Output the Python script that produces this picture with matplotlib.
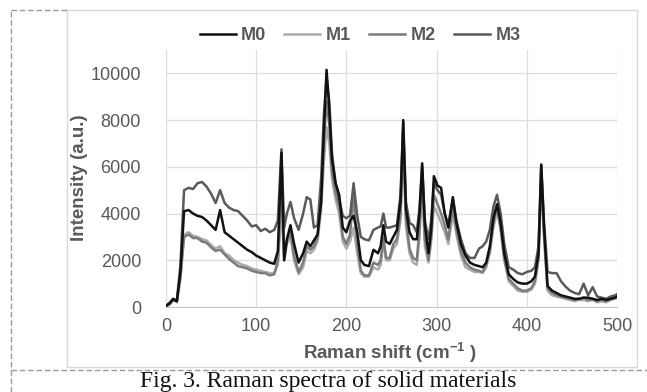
import matplotlib
matplotlib.use("Agg")
import matplotlib.pyplot as plt
from matplotlib.lines import Line2D
from matplotlib.patches import Rectangle

# ---------------- data ----------------
raman_shift = [
    0, 4, 8, 12, 16, 20, 25, 30, 35, 40,
    45, 50, 55, 60, 65, 70, 75, 80, 85, 90,
    95, 100, 105, 110, 115, 120, 124, 128, 131, 134,
    138, 142, 147, 152, 156, 160, 164, 168, 172, 175,
    178, 181, 184, 188, 192, 196, 200, 204, 208, 212,
    216, 220, 225, 230, 235, 238, 241, 244, 248, 252,
    256, 260, 263, 266, 270, 274, 278, 281, 284, 287,
    291, 294, 297, 301, 305, 309, 313, 318, 322, 327,
    332, 337, 342, 347, 351, 355, 359, 363, 367, 371,
    375, 380, 385, 390, 395, 400, 405, 409, 413, 416,
    419, 423, 428, 433, 438, 443, 448, 453, 458, 463,
    468, 473, 478, 483, 488, 493, 498, 500,
]

m0 = [
    50, 150, 350, 250, 1500, 4100, 4150, 4000, 3900, 3850,
    3700, 3500, 3300, 4150, 3200, 3050, 2900, 2750, 2600, 2450,
    2350, 2200, 2100, 2000, 1900, 1850, 2400, 6600, 2000, 2900,
    3500, 2700, 1900, 2300, 2800, 2600, 2850, 3100, 4500, 7500,
    10150, 8500, 6300, 5300, 4800, 3400, 3200, 3700, 3900, 3200,
    2000, 1800, 1750, 2450, 2300, 2600, 3500, 2800, 2700, 3000,
    3300, 4500, 8000, 4200, 3200, 2900, 2900, 4000, 6150, 3500,
    2300, 3300, 5600, 5200, 5100, 4000, 3400, 4700, 3600, 2700,
    2200, 1900, 1800, 1750, 1700, 1900, 2600, 3800, 4400, 3600,
    2300, 1400, 1200, 1050, 1000, 1000, 1100, 1300, 2300, 6100,
    3500, 900, 700, 600, 500, 450, 400, 350, 350, 400,
    400, 350, 300, 350, 300, 350, 400, 450,
]

m1 = [
    0, 100, 300, 200, 1200, 3100, 3200, 3050, 3000, 2900,
    2850, 2650, 2500, 2600, 2300, 2200, 2000, 1900, 1800, 1750,
    1650, 1600, 1550, 1500, 1450, 1450, 1800, 4200, 2000, 2700,
    3000, 2000, 1400, 1700, 2400, 2300, 2450, 2800, 4200, 6200,
    7700, 7000, 5500, 4600, 4000, 2800, 2500, 2800, 3400, 2300,
    1450, 1300, 1300, 1700, 1600, 1800, 2800, 2000, 2000, 2500,
    2700, 3700, 6800, 3500, 2300, 1900, 1800, 3000, 5300, 2600,
    1900, 2800, 4300, 4000, 3600, 3200, 2700, 4000, 3100, 2200,
    1700, 1600, 1500, 1500, 1450, 1700, 2300, 3400, 4100, 3300,
    2000, 1100, 900, 700, 650, 650, 750, 1000, 2000, 5600,
    3000, 700, 500, 450, 400, 350, 300, 250, 300, 300,
    250, 300, 200, 250, 200, 300, 350, 400,
]

m2 = [
    50, 200, 350, 250, 1300, 3000, 3100, 2950, 2950, 2800,
    2750, 2550, 2400, 2450, 2250, 2050, 1900, 1750, 1700, 1650,
    1550, 1500, 1450, 1450, 1350, 1400, 2000, 5200, 2300, 2800,
    3200, 2200, 1500, 1900, 2600, 2450, 2600, 3000, 4500, 7000,
    8800, 7800, 5800, 4900, 4300, 3000, 2700, 3100, 4800, 2700,
    1550, 1350, 1350, 1900, 1800, 2000, 3000, 2100, 2100, 2700,
    2900, 4000, 7300, 3800, 2500, 2100, 2000, 3300, 5700, 2900,
    2000, 3000, 4800, 4400, 4000, 3500, 2900, 4300, 3300, 2400,
    1900, 1700, 1600, 1550, 1500, 1800, 2400, 3600, 4300, 3400,
    2100, 1200, 1000, 800, 700, 700, 800, 1100, 2100, 5800,
    3200, 800, 600, 500, 450, 400, 350, 300, 350, 400,
    300, 350, 250, 300, 250, 350, 400, 450,
]

m3 = [
    50, 150, 300, 250, 1800, 5000, 5100, 5050, 5300, 5350,
    5150, 4850, 4450, 5000, 4450, 4250, 4150, 4100, 3900, 3700,
    3450, 3500, 3250, 3350, 3200, 3300, 3700, 6750, 3400, 4000,
    4500, 3800, 3300, 4000, 4700, 4600, 3400, 3500, 5500, 8200,
    9800, 8800, 6600, 5300, 4600, 3900, 3800, 3900, 5300, 3900,
    3000, 2900, 2850, 3300, 3400, 3450, 4000, 3400, 3400, 3450,
    3500, 4800, 7900, 4500, 3600, 3500, 3200, 4200, 6000, 3700,
    2900, 3700, 5300, 5000, 4800, 4000, 3500, 4600, 3700, 2900,
    2300, 2100, 2100, 2500, 2600, 2800, 3300, 4300, 4800, 4000,
    2700, 1700, 1600, 1450, 1400, 1500, 1550, 1700, 2600, 6050,
    3700, 1500, 1450, 1450, 1100, 870, 700, 600, 550, 1000,
    500, 850, 450, 400, 350, 450, 500, 550,
]

series_names = ["M0", "M1", "M2", "M3"]
series_values = [m0, m1, m2, m3]
series_colors = ["#111111", "#ababab", "#7c7c7c", "#5a5a5a"]
series_z = [6, 3, 4, 5]

x_ticks = [0, 100, 200, 300, 400, 500]
y_ticks = [0, 2000, 4000, 6000, 8000, 10000]

x_label = "Raman shift (cm$^{\\mathregular{-1}}$ )"
y_label = "Intensity (a.u.)"
caption = "Fig. 3. Raman spectra of solid materials"

# ---------------- figure ----------------
plt.rcParams['font.family'] = ['Liberation Sans', 'DejaVu Sans']
plt.rcParams['mathtext.fontset'] = 'custom'
plt.rcParams['mathtext.rm'] = 'Liberation Sans'
plt.rcParams['mathtext.bf'] = 'Liberation Sans:bold'

W, H = 647, 392
fig = plt.figure(figsize=(W / 100, H / 100), dpi=100)
fig.patch.set_facecolor("white")

ax = fig.add_axes([166 / W, (H - 307) / H, (617 - 166) / W, (307 - 50) / H])

handles = []
for name, vals, col, z in zip(series_names, series_values, series_colors, series_z):
    ln, = ax.plot(raman_shift, vals, color=col, lw=1.8, label=name, zorder=z,
                  solid_joinstyle='round')
    handles.append(ln)

ax.set_xlim(0, 500)
ax.set_ylim(0, 11000)
ax.set_xticks(x_ticks)
ax.set_yticks(y_ticks)
ax.set_xticklabels([str(v) for v in x_ticks])
ax.set_yticklabels([str(v) for v in y_ticks])
ax.grid(True, color="#dedede", lw=0.9)
ax.set_axisbelow(True)
for s in ["top", "right"]:
    ax.spines[s].set_visible(False)
ax.spines["left"].set_color("#dedede")
ax.spines["bottom"].set_color("#c8c8c8")
ax.tick_params(axis="both", length=0, labelsize=13, labelcolor="#595959")
ax.tick_params(axis="y", pad=18)
ax.tick_params(axis="x", pad=8)

fig.text(80 / W, 1 - 178 / H, y_label, rotation=90, ha="center", va="center",
         weight="bold", color="#595959", size=13.5)
fig.text(390 / W, 1 - 353 / H, x_label, ha="center", va="center",
         weight="bold", color="#595959", size=13.5)

fig.legend(handles, series_names, loc="center", bbox_to_anchor=(360 / W, 1 - 36 / H),
           ncol=4, frameon=False, prop={"weight": "bold", "size": 13},
           handlelength=2.0, handletextpad=0.3, columnspacing=1.0,
           labelcolor="#595959")

# chart-area border
fig.add_artist(Rectangle((67 / W, (H - 367) / H), 570 / W, 357 / H,
                         transform=fig.transFigure, fill=False,
                         ec="#d9d9d9", lw=1.0))
# dashed frame pieces
dash = dict(transform=fig.transFigure, ls=(0, (4, 2)), color="#9a9a9a", lw=1.0)
fig.add_artist(Line2D([11 / W, 11 / W], [0, 1 - 10 / H], **dash))
fig.add_artist(Line2D([11 / W, 67 / W], [1 - 10 / H, 1 - 10 / H], **dash))
fig.add_artist(Line2D([11 / W, 1], [1 - 370 / H, 1 - 370 / H], **dash))

fig.text(328 / W, 1 - 382 / H, caption, family="Liberation Serif", size=17,
         ha="center", va="center", color="#111111")

fig.savefig("out.png", dpi=100)
